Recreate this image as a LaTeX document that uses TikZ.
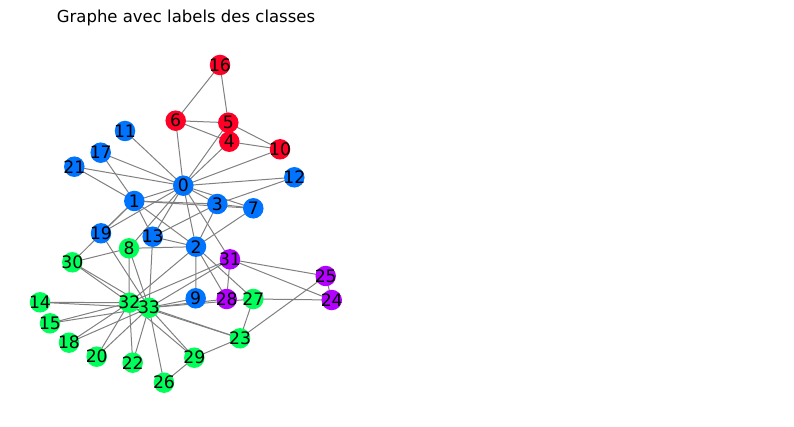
\documentclass[tikz,border=0pt]{standalone}
\usepackage{fontspec}
\setmainfont{DejaVu Sans}
\usepackage{xcolor}
\usetikzlibrary{backgrounds}

\definecolor{clsred}{HTML}{FF0026}
\definecolor{clsblue}{HTML}{0074FF}
\definecolor{clsgreen}{HTML}{00FF5A}
\definecolor{clspurple}{HTML}{B400FF}

\begin{document}
\begin{tikzpicture}[x=1pt,y=-1pt,
    vertex/.style={circle, minimum size=20.5pt, inner sep=0pt},
    vlabel/.style={font=\fontsize{17.2}{18}\selectfont, inner sep=0pt},
    edge/.style={draw=gray, line width=1pt}]
    \useasboundingbox (0,0) rectangle (794,427);
    \node[font=\fontsize{16.5}{18}\selectfont] (title) at (186,18) {Graphe avec labels des classes};
    % nodes
    \foreach \i/\x/\y/\c in {0/183.3/185.7/clsblue, 1/134.3/201/clsblue, 2/196/246.7/clsblue,
        3/217.3/204/clsblue, 4/229.3/141.7/clsred, 5/228.3/122.7/clsred, 6/175.7/120.7/clsred,
        7/253.3/208.3/clsblue, 8/129/248.3/clsgreen, 9/195.7/298.3/clsblue, 10/280/149.3/clsred,
        11/125/131/clsblue, 12/294.3/177.3/clsblue, 13/152.7/236.7/clsblue, 14/40/302.3/clsgreen,
        15/50/323.3/clsgreen, 16/220/65/clsred, 17/100.7/152.7/clsblue, 18/69/342.7/clsgreen,
        19/101/233.3/clsblue, 20/96.7/356.7/clsgreen, 21/74.3/166.7/clsblue, 22/132.7/362.7/clsgreen,
        23/240/338.3/clsgreen, 24/331.7/300/clspurple, 25/325.7/276/clspurple, 26/164/382.7/clsgreen,
        27/253.3/299/clsgreen, 28/226.7/299/clspurple, 29/194.3/357.7/clsgreen, 30/72.3/262.3/clsgreen,
        31/230/259.3/clspurple, 32/129.3/302.7/clsgreen, 33/149/307.7/clsgreen}
        \node[vertex, fill=\c, label={[vlabel]center:\i}] (n\i) at (\x,\y) {};
    % edges
    \begin{scope}[on background layer]
    \foreach \a/\b in {0/1,0/2,0/3,0/4,0/5,0/6,0/7,0/8,0/10,0/11,0/12,0/13,0/17,0/19,0/21,0/31,
        1/2,1/3,1/7,1/13,1/17,1/19,1/21,1/30,2/3,2/7,2/8,2/9,2/13,2/27,2/28,2/32,
        3/7,3/12,3/13,4/6,4/10,5/6,5/10,5/16,6/16,8/30,8/32,8/33,9/33,13/33,
        14/32,14/33,15/32,15/33,18/32,18/33,19/33,20/32,20/33,22/32,22/33,
        23/25,23/27,23/29,23/32,23/33,24/25,24/27,24/31,25/31,26/29,26/33,27/33,
        28/31,28/33,29/32,29/33,30/32,30/33,31/32,31/33,32/33}
        \draw[edge] (n\a.center) -- (n\b.center);
    \end{scope}
\end{tikzpicture}
\end{document}
